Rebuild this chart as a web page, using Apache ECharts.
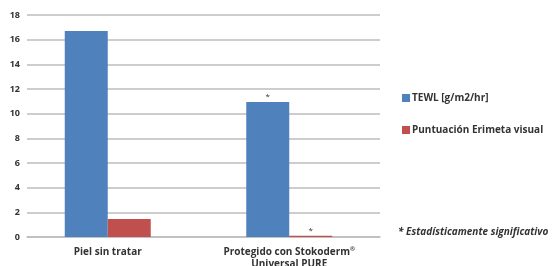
<!DOCTYPE html>
<html>
<head>
<meta charset="utf-8">
<script src="https://cdn.jsdelivr.net/npm/echarts@6/dist/echarts.min.js"></script>
<style>
  html, body { margin: 0; padding: 0; background: #fff; }
  #chart { width: 556px; height: 266px; }
</style>
</head>
<body>
<div id="chart"></div>
<script>
const categories = ['Piel sin tratar', 'Protegido con Stokoderm®\nUniversal PURE']
const tewl = [16.7, 10.95]
const eritema = [1.45, 0.1]
const tewlSignif = [false, true]
const eritemaSignif = [false, true]
const yTicks = [0, 2, 4, 6, 8, 10, 12, 14, 16, 18]

const font = '"Open Sans", sans-serif'
const chart = echarts.init(document.getElementById('chart'))

function starLabel(flags) {
  return {
    show: true,
    position: 'top',
    distance: 1,
    color: '#333',
    fontSize: 8,
    fontFamily: font,
    formatter: (p) => (flags[p.dataIndex] ? '*' : ''),
  }
}

const yBase = {
  type: 'value',
  min: yTicks[0],
  max: yTicks[yTicks.length - 1],
  interval: 2,
  axisLine: { show: false },
  axisTick: { show: false },
}

const option = {
  animation: false,
  color: ['#4F81BD', '#C0504D'],
  grid: [
    // bars (Excel plot area is a bit wider than the gridlines)
    { left: 17, right: 176, top: 15, bottom: 29, outerBoundsMode: 'none', containLabel: false },
    // gridlines and y labels
    { left: 27, right: 176, top: 15, bottom: 29, outerBoundsMode: 'none', containLabel: false },
  ],
  legend: {
    orient: 'vertical',
    left: 397,
    top: 88,
    itemGap: 22,
    itemWidth: 8,
    itemHeight: 8,
    icon: 'rect',
    textStyle: { color: '#333', fontSize: 10, fontWeight: 'bold', fontFamily: font, padding: [0, 0, 0, -3] },
  },
  xAxis: [
    {
      type: 'category',
      gridIndex: 0,
      data: categories,
      axisTick: { show: false },
      axisLine: { show: false },
      axisLabel: {
        interval: 0,
        hideOverlap: false,
        color: '#333', fontSize: 10, fontWeight: 'bold', fontFamily: font, margin: 9, lineHeight: 12,
        formatter: (v) => v.replace('®', '{sup|®}'),
        rich: { sup: { fontSize: 6, fontFamily: font, color: '#333', verticalAlign: 'top', lineHeight: 12, padding: [0, 0, 4, 0] } },
      },
    },
    {
      type: 'category',
      gridIndex: 1,
      data: categories,
      axisTick: { show: false },
      axisLine: { show: true, lineStyle: { color: '#bdbdbd', width: 1.5 } },
      axisLabel: { show: false },
    },
  ],
  yAxis: [
    Object.assign({ gridIndex: 0, axisLabel: { show: false }, splitLine: { show: false } }, yBase),
    Object.assign({
      gridIndex: 1,
      axisLabel: { color: '#333', fontSize: 9, fontWeight: 'bold', fontFamily: font, margin: 7 },
      splitLine: { lineStyle: { color: '#bdbdbd', width: 1.5 } },
    }, yBase),
  ],
  graphic: [{
    type: 'text',
    left: 398,
    top: 227,
    style: { text: '* Estadísticamente significativo', fill: '#333', font: 'italic bold 10px ' + font },
  }],
  series: [
    {
      name: 'TEWL [g/m2/hr]',
      type: 'bar',
      xAxisIndex: 0,
      yAxisIndex: 0,
      z: 3,
      data: tewl,
      barWidth: 43,
      barGap: '0%',
      label: starLabel(tewlSignif),
    },
    {
      name: 'Puntuación Erimeta visual',
      type: 'bar',
      xAxisIndex: 0,
      yAxisIndex: 0,
      z: 3,
      data: eritema,
      barWidth: 43,
      barGap: '0%',
      label: starLabel(eritemaSignif),
    },
  ],
}
chart.setOption(option)
</script>
</body>
</html>
